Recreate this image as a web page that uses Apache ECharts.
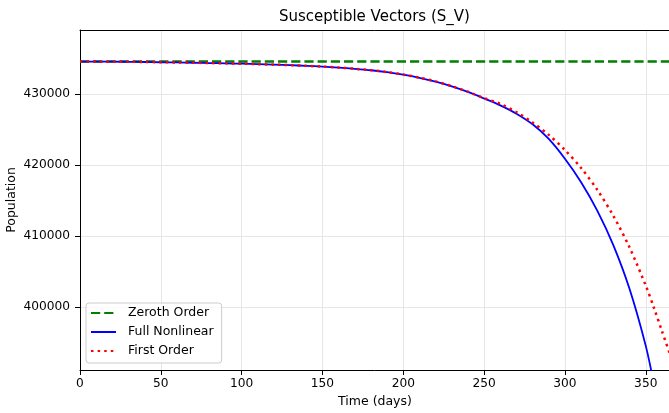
<!DOCTYPE html>
<html>
<head>
<meta charset="utf-8">
<script src="https://cdn.jsdelivr.net/npm/echarts@6/dist/echarts.min.js"></script>
<style>
    html, body { margin: 0; padding: 0; background: #fff; }
    #container { width: 669px; height: 413px; }
</style>
</head>
<body>
<div id="container"></div>
<script>
// time axis (days)
var days = [0, 10, 20, 30, 40, 50, 60, 70, 80, 90, 100, 110, 120, 130, 140, 150, 160, 170, 180,
    190, 200, 210, 220, 230, 240, 250, 260, 270, 280, 290, 300, 310, 320, 330, 340, 350, 355, 360, 365];

// full nonlinear model
var fullNonlinear = [434550, 434545, 434535, 434520, 434495, 434460, 434425, 434385, 434340, 434300,
    434250, 434190, 434120, 434040, 433950, 433840, 433700, 433530, 433330, 433060,
    432700, 432260, 431720, 431060, 430270, 429350, 428380, 427210, 425710, 423650,
    420860, 417560, 413560, 408660, 402500, 394500, 389200, null, null];

// first order approximation
var firstOrder = [434550, 434545, 434535, 434520, 434495, 434460, 434425, 434385, 434340, 434300,
    434250, 434190, 434120, 434040, 433950, 433845, 433705, 433540, 433340, 433075,
    432720, 432290, 431760, 431080, 430300, 429400, 428600, 427420, 425970, 424220,
    422100, 419560, 416490, 412800, 408350, 403000, 399900, 396600, 393300];

// zeroth order stays flat
var zerothDays = [0, 365];
var zerothOrder = [434550, 434550];

var xTicks = [0, 50, 100, 150, 200, 250, 300, 350];
var yTicks = [400000, 410000, 420000, 430000];

var FONT = 'DejaVu Sans';

function pairs(xs, ys) {
    return xs.map(function (x, i) {
        return [x, ys[i]];
    });
}

var chart = echarts.init(document.getElementById('container'));

var option = {
    animation: false,
    backgroundColor: '#ffffff',
    title: {
        text: 'Susceptible Vectors (S_V)',
        left: 279,
        top: 10,
        padding: 0,
        textStyle: { fontFamily: FONT, fontSize: 15, fontWeight: 'normal', color: '#000' }
    },
    legend: {
        orient: 'vertical',
        left: 86,
        top: 303,
        padding: [3, 8, 5, 4],
        itemWidth: 25,
        itemHeight: 14,
        itemGap: 5,
        backgroundColor: 'rgba(255,255,255,0.8)',
        borderColor: '#cccccc',
        borderWidth: 1,
        borderRadius: 3,
        itemStyle: { opacity: 0 },
        textStyle: { fontFamily: FONT, fontSize: 12.5, lineHeight: 14, color: '#000', padding: [0, 0, 0, 7] },
        data: ['Zeroth Order', 'Full Nonlinear', 'First Order']
    },
    grid: {
        left: 80,
        top: 30,
        right: -1,
        bottom: 43,
        containLabel: false,
        outerBoundsMode: 'none'
    },
    xAxis: [{
        type: 'value',
        min: 0,
        max: 365,
        interval: 50,
        name: 'Time (days)',
        nameLocation: 'middle',
        nameGap: 25,
        nameMoveOverlap: false,
        nameTextStyle: { fontFamily: FONT, fontSize: 12.5, color: '#000' },
        axisLine: { show: true, lineStyle: { color: '#000', width: 1 } },
        axisTick: { show: true, inside: false, length: 5, lineStyle: { color: '#000' }, customValues: xTicks },
        axisLabel: {
            fontFamily: FONT, fontSize: 12.2, color: '#000', margin: 8,
            customValues: xTicks
        },
        splitLine: { show: true, lineStyle: { color: '#e6e6e6', width: 1 } }
    }, {
        type: 'value',
        position: 'top',
        min: 0,
        max: 365,
        axisLine: { show: true, lineStyle: { color: '#000', width: 1 } },
        axisTick: { show: false },
        axisLabel: { show: false },
        splitLine: { show: false }
    }],
    yAxis: {
        type: 'value',
        min: 391100,
        max: 439000,
        name: 'Population',
        nameLocation: 'middle',
        nameGap: 62,
        nameMoveOverlap: false,
        nameTextStyle: { fontFamily: FONT, fontSize: 12.5, color: '#000' },
        axisLine: { show: true, lineStyle: { color: '#000', width: 1 } },
        axisTick: { show: true, inside: false, length: 5, lineStyle: { color: '#000' }, customValues: yTicks },
        axisLabel: {
            fontFamily: FONT, fontSize: 12.2, color: '#000', margin: 10,
            customValues: yTicks,
            formatter: function (v) { return String(v); }
        },
        splitLine: { show: false }
    },
    series: [{
        name: 'Zeroth Order',
        type: 'line',
        showSymbol: false,
        symbol: 'none',
        data: pairs(zerothDays, zerothOrder),
        lineStyle: { color: '#008000', width: 2.5, type: [9.2, 4] },
        itemStyle: { color: '#008000' },
        markLine: {
            silent: true,
            symbol: 'none',
            label: { show: false },
            lineStyle: { color: '#e6e6e6', width: 1, type: 'solid' },
            data: yTicks.map(function (v) { return { yAxis: v }; }),
            z: 0
        }
    }, {
        name: 'Full Nonlinear',
        type: 'line',
        showSymbol: false,
        symbol: 'none',
        smooth: 0.3,
        clip: true,
        connectNulls: false,
        data: pairs(days, fullNonlinear),
        lineStyle: { color: '#0000ff', width: 1.8 },
        itemStyle: { color: '#0000ff' }
    }, {
        name: 'First Order',
        type: 'line',
        showSymbol: false,
        symbol: 'none',
        smooth: 0.3,
        clip: true,
        data: pairs(days, firstOrder),
        lineStyle: { color: '#ff0000', width: 2.5, type: [2.5, 4.1] },
        itemStyle: { color: '#ff0000' }
    }]
};

chart.setOption(option);
</script>
</body>
</html>
